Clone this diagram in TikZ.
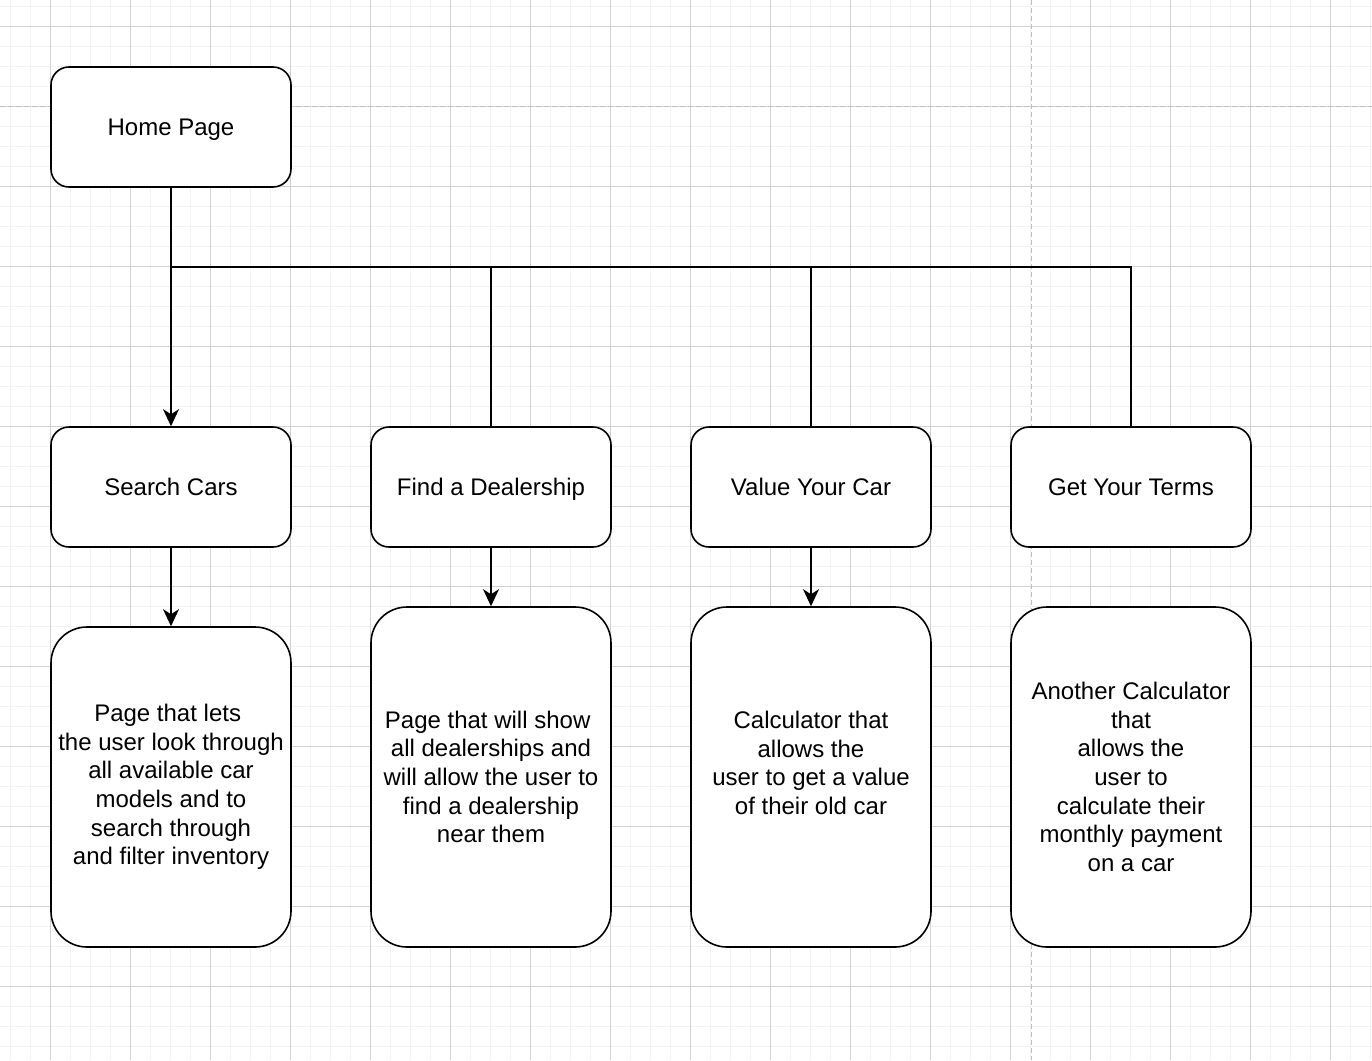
\documentclass[tikz,border=0pt]{standalone}
\usepackage{fontspec}
\setmainfont{Liberation Sans}
\usetikzlibrary{arrows.meta}
\newcommand{\tsp}{\hspace*{0.278em}}
\definecolor{minorc}{HTML}{F2F2F2}
\definecolor{majorc}{HTML}{D2D2D2}
\definecolor{pagec}{HTML}{C0C0C0}
\tikzset{
  minorgrid/.style={draw=minorc, line width=1pt},
  majorgrid/.style={draw=majorc, line width=1pt},
  pagebreak/.style={draw=pagec, line width=1.5pt, dash pattern=on 5pt off 3pt},
  boxbase/.style={draw=black, fill=white, line width=1.6pt, minimum width=240pt,
    align=center, inner sep=0pt,
    font=\fontsize{24}{28.7}\selectfont},
  smallbox/.style={boxbase, rounded corners=18pt, minimum height=120pt,
    text height=17.2pt, text depth=0pt},
  tallbox/.style={boxbase, rounded corners=36pt, minimum height=340pt},
  tallboxA/.style={boxbase, rounded corners=36pt, minimum height=320pt},
  conn/.style={draw=black, line width=1.6pt},
  arr/.style={conn, -{Stealth[length=17pt, width=16pt, inset=5pt]}},
}
\begin{document}
\begin{tikzpicture}[x=1pt, y=-1pt]
\useasboundingbox (0,0) rectangle (1372,1060);
\fill[white] (0,0) rectangle (1372,1060);
% grid
\foreach \i in {0,...,68} \draw[minorgrid] ({10.5+20*\i},0) -- ({10.5+20*\i},1060);
\foreach \i in {0,...,52} \draw[minorgrid] (0,{6.5+20*\i}) -- (1372,{6.5+20*\i});
\foreach \i in {0,...,16} \draw[majorgrid] ({50.5+80*\i},0) -- ({50.5+80*\i},1060);
\foreach \i in {0,...,13} \draw[majorgrid] (0,{26.5+80*\i}) -- (1372,{26.5+80*\i});
% page breaks
\draw[pagebreak] (0,106.5) -- (1372,106.5);
\draw[pagebreak] (1031.5,0) -- (1031.5,1060);
% nodes
\node[smallbox] (home) at (171,127) {Home Page};
\node[smallbox] (search) at (171,487) {Search Cars};
\node[smallbox] (dealer) at (491,487) {Find a Dealership};
\node[smallbox] (value) at (811,487) {Value Your Car};
\node[smallbox] (terms) at (1131,487) {Get Your Terms};
\node[tallboxA] (searchd) at (171,787) {Page that lets\tsp\\the user look through\\all available car\\models and to\tsp\\search through\\and filter inventory};
\node[tallbox] (dealerd) at (491,777) {Page that will show\tsp\\all dealerships and\\will allow the user to\\find a dealership\\near them};
\node[tallbox] (valued) at (811,777) {Calculator that\\allows the\tsp\\user to get a value\\of their old car\\\mbox{}};
\node[tallbox] (termsd) at (1131,777) {Another Calculator\\that\\allows the\\user to\tsp\\calculate their\\monthly payment\\on a car};
% connectors
\coordinate (j) at (171,267);
\draw[arr] (home.south) -- (search.north);
\draw[conn] (j) -| (dealer.north);
\draw[conn] (j) -| (value.north);
\draw[conn] (j) -| (terms.north);
\draw[arr] (search.south) -- (searchd.north);
\draw[arr] (dealer.south) -- (dealerd.north);
\draw[arr] (value.south) -- (valued.north);
\end{tikzpicture}
\end{document}
